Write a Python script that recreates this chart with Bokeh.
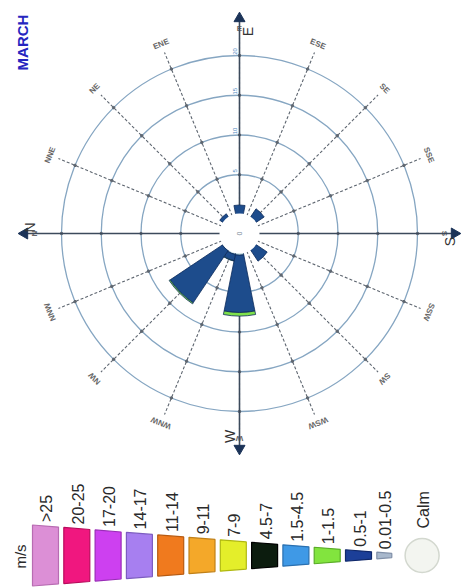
import numpy as np
from bokeh.plotting import figure
from bokeh.models import Range1d, ColumnDataSource
from bokeh.embed import file_html
from bokeh.resources import INLINE
from bokeh.core.properties import value

# ---------------- data ----------------
month = "MARCH"
directions = ["N", "NNE", "NE", "ENE", "E", "ESE", "SE", "SSE",
              "S", "SSW", "SW", "WSW", "W", "WNW", "NW", "NNW"]
bearings = [0, 22.5, 45, 67.5, 90, 112.5, 135, 157.5,
            180, 202.5, 225, 247.5, 270, 292.5, 315, 337.5]
cardinals = ["N", "E", "S", "W"]
cardinal_bearings = [0, 90, 180, 270]

# frequency (%) per direction, per speed class present in the rose
freq_001_05 = [0, 0, 0, 0, 0, 0, 0, 0, 0, 0, 0, 0, 0.35, 0.3, 0.2, 0]
freq_05_1   = [0, 0, 0.6, 0, 1.2, 0, 1.35, 0, 0, 0, 1.8, 0, 7.2, 0.8, 7.9, 0]
freq_1_15   = [0, 0, 0, 0, 0, 0, 0, 0, 0, 0, 0, 0, 0.45, 0.05, 0.15, 0]
rose_bins = ["0.01-0.5", "0.5-1", "1-1.5"]

ring_values = [5, 10, 15, 20]
ring_labels = ["5", "10", "15", "20"]
calm_label = "0"

speed_bins = [">25", "20-25", "17-20", "14-17", "11-14", "9-11", "7-9",
              "4.5-7", "1.5-4.5", "1-1.5", "0.5-1", "0.01-0.5"]
bin_colors = ["#dc8fd6", "#f0177f", "#cd40f0", "#a77ff0", "#f07a1e", "#f4a829",
              "#e4ee2a", "#0c1c0e", "#3f99e6", "#82e43e", "#1c3f98", "#a8b8cc"]
bin_edges = ["#b86cb2", "#b80c5c", "#9a2cb8", "#7c5cc0", "#b85a10", "#c08018",
             "#b0b810", "#000000", "#2a70b0", "#5aac28", "#10286a", "#8090a8"]
unit_label = "m/s"
calm_text = "Calm"

# ---------------- geometry (pixels) ----------------
W, H = 461, 587
CX, CY = 239, 233          # centre of the rose in page pixels
R0 = 19.0                  # calm circle radius
SCALE = 7.95               # pixels per percent
SPOKE_R = 196
LABEL_R = 205
AXIS_R = 219

FONT = value("Liberation Sans")

def X(px):
    return px - CX

def Y(py):
    return CY - py

p = figure(width=W, height=H, output_backend="svg", toolbar_location=None,
           x_range=Range1d(X(0), X(W)), y_range=Range1d(Y(H), Y(0)),
           x_axis_location=None, y_axis_location=None, min_border=0,
           outline_line_color=None, background_fill_color="white",
           border_fill_color="white")
p.grid.visible = False

# rings
ring_r = [R0 + v * SCALE for v in ring_values]
p.circle(x=[0] * len(ring_r), y=[0] * len(ring_r), radius=ring_r,
         fill_alpha=0, line_color="#86a6c2", line_width=1.3)

# spokes
th = np.deg2rad(180 - np.array(bearings))
p.segment(x0=R0 * np.cos(th), y0=R0 * np.sin(th),
          x1=SPOKE_R * np.cos(th), y1=SPOKE_R * np.sin(th),
          line_color="#5e6670", line_width=1.1, line_dash="3 2")
p.scatter(x=np.concatenate([r * np.cos(th) for r in ring_r]),
          y=np.concatenate([r * np.sin(th) for r in ring_r]),
          marker="circle", size=2.5, color="#5e6670")

# spoke labels
p.text(x=LABEL_R * np.cos(th), y=LABEL_R * np.sin(th), text=directions,
       angle=th - np.pi / 2, text_align="center", text_baseline="middle",
       text_font=FONT, text_font_size="8px", text_color="#666666",
       text_font_style="bold")

# main axes
tc = np.deg2rad(180 - np.array(cardinal_bearings))
p.segment(x0=[0] * 4, y0=[0] * 4, x1=AXIS_R * np.cos(tc), y1=AXIS_R * np.sin(tc),
          line_color="#3c4a5c", line_width=1.6)
p.scatter(x=(AXIS_R - 4) * np.cos(tc), y=(AXIS_R - 4) * np.sin(tc),
          marker="triangle", size=11, angle=tc - np.pi / 2,
          fill_color="#1b3358", line_color="#1b3358")

# cardinal labels (offset beside the arrows)
off_x = [-5, 8, 5, -10]
off_y = [6, -3, -8, 2]
lab_r = [205, 205, 205, 205]
p.text(x=[lab_r[i] * np.cos(tc[i]) + off_x[i] for i in range(4)],
       y=[lab_r[i] * np.sin(tc[i]) + off_y[i] for i in range(4)],
       text=cardinals, angle=np.pi / 2, text_align="center",
       text_baseline="middle", text_font=FONT, text_font_size="14px",
       text_color="#333333")

# wedges (stacked speed classes)
rose_freqs = [freq_001_05, freq_05_1, freq_1_15]
rose_colors = ["#b5d2d8", "#1d4c8c", "#7ee04a"]
half = np.deg2rad(11.25)
wx, wy, wi, wo, ws, we, wc = [], [], [], [], [], [], []
cum = np.zeros(len(bearings))
for freqs, col in zip(rose_freqs, rose_colors):
    for i, f in enumerate(freqs):
        if f > 0:
            wx.append(0); wy.append(0)
            wi.append(R0 + cum[i] * SCALE)
            wo.append(R0 + (cum[i] + f) * SCALE)
            ws.append(th[i] - half); we.append(th[i] + half)
            wc.append(col)
    cum += np.array(freqs)
p.annular_wedge(x="x", y="y", inner_radius="ri", outer_radius="ro",
                start_angle="s", end_angle="e", fill_color="c",
                line_color="#0e2c5c", line_width=0.8,
                source=ColumnDataSource(dict(x=wx, y=wy, ri=wi, ro=wo, s=ws, e=we, c=wc)))

# calm circle
p.circle(x=[0], y=[0], radius=[R0], fill_color="white", line_color="white",
         line_width=2)
p.text(x=[0], y=[0], text=[calm_label], angle=np.pi / 2, text_align="center",
       text_baseline="middle", text_font=FONT, text_font_size="7px",
       text_color="#7a8a9a")

# ring labels
p.text(x=[-5] * len(ring_r), y=[r + 4 for r in ring_r], text=ring_labels,
       angle=np.pi / 2, text_align="center", text_baseline="middle",
       text_font=FONT, text_font_size="6px", text_color="#4f88bf")

# title
p.text(x=[X(22)], y=[Y(42)], text=[month], angle=np.pi / 2,
       text_align="center", text_baseline="middle", text_font=FONT,
       text_font_size="15px", text_font_style="bold", text_color="#2626bf")

# ---------------- legend ----------------
LC = 555                      # legend centre line (page px)
def half_h(px):
    return 30.5 - 0.079 * (px - 32)

xs, ys, lx, ly = [], [], [], []
for i, name in enumerate(speed_bins):
    x0 = 32 + 31.3 * i
    x1 = x0 + (26 if i < len(speed_bins) - 1 else 15)
    h0, h1 = half_h(x0), half_h(x1)
    xs.append([X(x0), X(x1), X(x1), X(x0)])
    ys.append([Y(LC - h0), Y(LC - h1), Y(LC + h1), Y(LC + h0)])
    lx.append(X((x0 + x1) / 2 + 1))
    ly.append(Y(LC - h0 - 3))
p.patches(xs=xs, ys=ys, fill_color=bin_colors, line_color=bin_edges,
          line_width=1.2)
p.text(x=lx, y=ly, text=speed_bins, angle=np.pi / 2, text_align="left",
       text_baseline="middle", text_font=FONT, text_font_size="16px",
       text_color="#2a2a2a")

calm_x = 32 + 31.3 * len(speed_bins) + 14
p.circle(x=[X(calm_x)], y=[Y(LC)], radius=[17], fill_color="#f3f5f0",
         line_color="#d3d8cf", line_width=1.5)
p.text(x=[X(calm_x + 1)], y=[Y(LC - 27)], text=[calm_text], angle=np.pi / 2,
       text_align="left", text_baseline="middle", text_font=FONT,
       text_font_size="16px", text_color="#2a2a2a")

p.text(x=[X(20)], y=[Y(556)], text=[unit_label], angle=np.pi / 2,
       text_align="center", text_baseline="middle", text_font=FONT,
       text_font_size="15px", text_color="#2a2a2a")

open("out.html", "w").write(file_html(p, INLINE))
